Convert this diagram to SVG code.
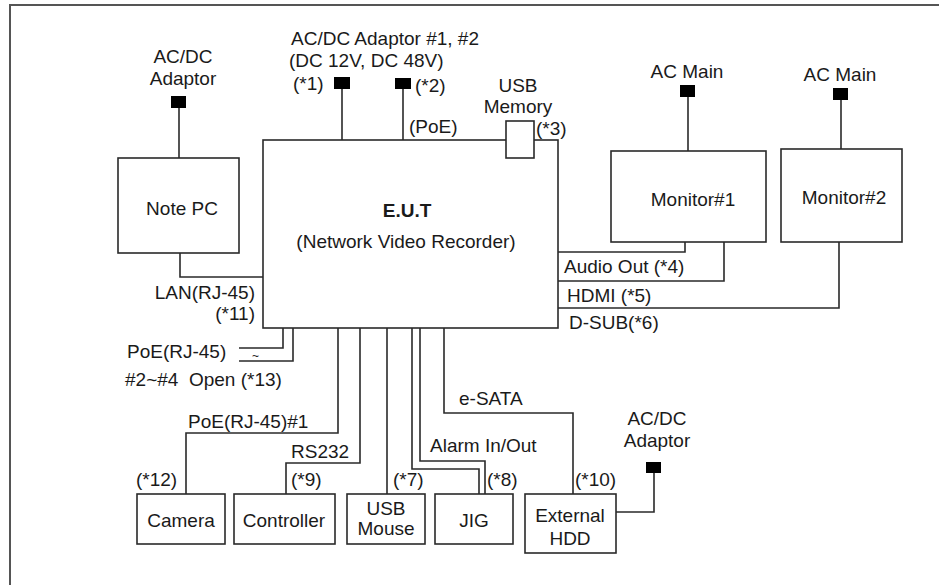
<svg xmlns="http://www.w3.org/2000/svg" width="939" height="585" viewBox="0 0 939 585">
<style>
.box{fill:#fff;stroke:#2a2a2a;stroke-width:1.6}
.plug{fill:#000;stroke:none}
.wire{fill:none;stroke:#2a2a2a;stroke-width:1.6}
text{font-family:"Liberation Sans",Arial,sans-serif;font-size:19px;fill:#1a1a1a}
.m{text-anchor:middle}
.e{text-anchor:end}
.b{font-weight:bold}
.pre{white-space:pre}
</style>
<rect width="939" height="585" fill="#fff"/>
<path d="M10 585 V5 H939" fill="none" stroke="#555" stroke-width="2"/>

<g id="connectors">
<path class="wire" d="M179 108 V158"/>
<path class="wire" d="M342 89 V140"/>
<path class="wire" d="M403 89 V140"/>
<path class="wire" d="M688 97 V151"/>
<path class="wire" d="M841 100 V149"/>
<path class="wire" d="M180 253 V277 H263"/>
<path class="wire" d="M558 252 H685 V242"/>
<path class="wire" d="M558 281 H724 V242"/>
<path class="wire" d="M558 308 H839 V242"/>
<path class="wire" d="M283 328 V348 H239"/>
<path class="wire" d="M293 328 V361 H239"/>
<path class="wire" d="M338 328 V433 H186 V494"/>
<path class="wire" d="M360 328 V463 H286 V494"/>
<path class="wire" d="M387 328 V494"/>
<path class="wire" d="M412 328 V469 H479 V494"/>
<path class="wire" d="M420 328 V461 H485 V494"/>
<path class="wire" d="M444 328 V413 H573 V494"/>
<path class="wire" d="M654 473 V512 H616"/>
<text x="188" y="428">PoE(RJ-45)#1</text>
</g>

<g id="adaptor-notepc">
<rect class="plug" x="171" y="96" width="15" height="12"/>
<text class="m" x="183" y="63">AC/DC</text>
<text class="m" x="183" y="85">Adaptor</text>
</g>

<g id="adaptor-eut">
<rect class="plug" x="334" y="77" width="16" height="12"/>
<rect class="plug" x="395" y="78" width="16" height="11"/>
<text x="291" y="45">AC/DC Adaptor #1, #2</text>
<text x="289" y="67">(DC 12V, DC 48V)</text>
<text x="293" y="90">(*1)</text>
<text x="415" y="92">(*2)</text>
<text x="409" y="133">(PoE)</text>
</g>

<g id="note-pc">
<rect class="box" x="118" y="158" width="121" height="95"/>
<text class="m" x="182" y="215">Note PC</text>
</g>

<g id="eut">
<rect class="box" x="263" y="140" width="295" height="188"/>
<text class="m b" x="407" y="217">E.U.T</text>
<text class="m" x="406" y="248">(Network Video Recorder)</text>
<text class="e" x="255" y="299">LAN(RJ-45)</text>
<text class="e" x="255" y="320">(*11)</text>
<text x="564" y="273">Audio Out (*4)</text>
<text x="567" y="302">HDMI (*5)</text>
<text x="569" y="329">D-SUB(*6)</text>
<text x="127" y="358">PoE(RJ-45)</text>
<text x="252" y="360" style="font-size:12px">~</text>
<text class="pre" x="125" y="386">#2~#4  Open (*13)</text>
<text x="291" y="458">RS232</text>
<text x="459" y="405">e-SATA</text>
<text x="430" y="452">Alarm In/Out</text>
</g>

<g id="usb-memory">
<rect class="box" x="506" y="121" width="28" height="37"/>
<text class="m" x="518" y="92">USB</text>
<text class="m" x="518" y="113">Memory</text>
<text x="536" y="135">(*3)</text>
</g>

<g id="monitor1">
<rect class="plug" x="680" y="85" width="15" height="12"/>
<text class="m" x="687" y="78">AC Main</text>
<rect class="box" x="611" y="151" width="155" height="91"/>
<text class="m" x="693" y="206">Monitor#1</text>
</g>

<g id="monitor2">
<rect class="plug" x="833" y="88" width="15" height="12"/>
<text class="m" x="840" y="81">AC Main</text>
<rect class="box" x="781" y="149" width="121" height="93"/>
<text class="m" x="844" y="204">Monitor#2</text>
</g>

<g id="camera">
<rect class="box" x="137" y="494" width="88" height="50"/>
<text class="m" x="181" y="527">Camera</text>
<text x="136" y="486">(*12)</text>
</g>

<g id="controller">
<rect class="box" x="234" y="494" width="101" height="50"/>
<text class="m" x="284" y="527">Controller</text>
<text x="291" y="486">(*9)</text>
</g>

<g id="usb-mouse">
<rect class="box" x="347" y="494" width="78" height="50"/>
<text class="m" x="386" y="515">USB</text>
<text class="m" x="386" y="535">Mouse</text>
<text x="393" y="486">(*7)</text>
</g>

<g id="jig">
<rect class="box" x="435" y="494" width="78" height="50"/>
<text class="m" x="474" y="527">JIG</text>
<text x="487" y="486">(*8)</text>
</g>

<g id="external-hdd">
<rect class="box" x="525" y="494" width="91" height="59"/>
<text class="m" x="570" y="522">External</text>
<text class="m" x="570" y="545">HDD</text>
<text x="575" y="486">(*10)</text>
</g>

<g id="adaptor-hdd">
<rect class="plug" x="646" y="462" width="15" height="11"/>
<text class="m" x="657" y="425">AC/DC</text>
<text class="m" x="657" y="447">Adaptor</text>
</g>
</svg>
